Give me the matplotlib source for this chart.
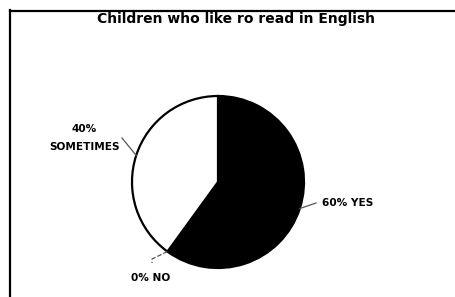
import numpy as np
import matplotlib
matplotlib.use('Agg')
import matplotlib.pyplot as plt
from matplotlib.lines import Line2D

# pie data
answers = ['YES', 'NO', 'SOMETIMES']
percents = [60, 0, 40]
slice_colors = ['black', 'white', 'white']
labels = ['60% YES', '0% NO', '40%\nSOMETIMES']

W, H = 455, 297
plt.rcParams['font.family'] = ['DejaVu Sans']

fig = plt.figure(figsize=(W / 100, H / 100), dpi=100)
ax = fig.add_axes([0, 0, 1, 1])

cx, cy, r = 218, H - 182, 86
wedges, _ = ax.pie(percents, colors=slice_colors, startangle=90, counterclock=False,
                   center=(cx, cy), radius=r, frame=True,
                   wedgeprops=dict(edgecolor='black', linewidth=1.6))
ax.set_xlim(0, W)
ax.set_ylim(0, H)
ax.set_aspect('equal')
ax.axis('off')

# label text positions (pixels, top-left origin) and leader elbows
text_pos = [(322, 203), (151, 278), (84, 138)]
text_ha = ['left', 'center', 'center']
elbows = [[(316, 203)], [(152, 259), (152, 263)], [(122, 138)]]
styles = ['-', '--', '-']

for w, lab, (tx, ty), ha, elb, ls in zip(wedges, labels, text_pos, text_ha, elbows, styles):
    mid = np.deg2rad((w.theta1 + w.theta2) / 2)
    ex, ey = cx + r * np.cos(mid), cy + r * np.sin(mid)
    xs = [ex] + [p[0] for p in elb]
    ys = [ey] + [H - p[1] for p in elb]
    ax.plot(xs, ys, color='#555555', lw=0.9, ls=ls)
    ax.text(tx, H - ty, lab, ha=ha, va='center', fontsize=7.6, fontweight='bold',
            linespacing=1.9)

ax.text(236, H - 19, 'Children who like ro read in English', ha='center', va='center',
        fontsize=10, fontweight='bold')

# scanned frame: left and top edges only
fig.add_artist(Line2D([10 / W, 10 / W], [0, 1 - 10 / H], color='black', lw=1.6))
fig.add_artist(Line2D([10 / W, 1], [1 - 10.5 / H, 1 - 10.5 / H], color='black', lw=1.6))

fig.savefig('out.png', dpi=100)
